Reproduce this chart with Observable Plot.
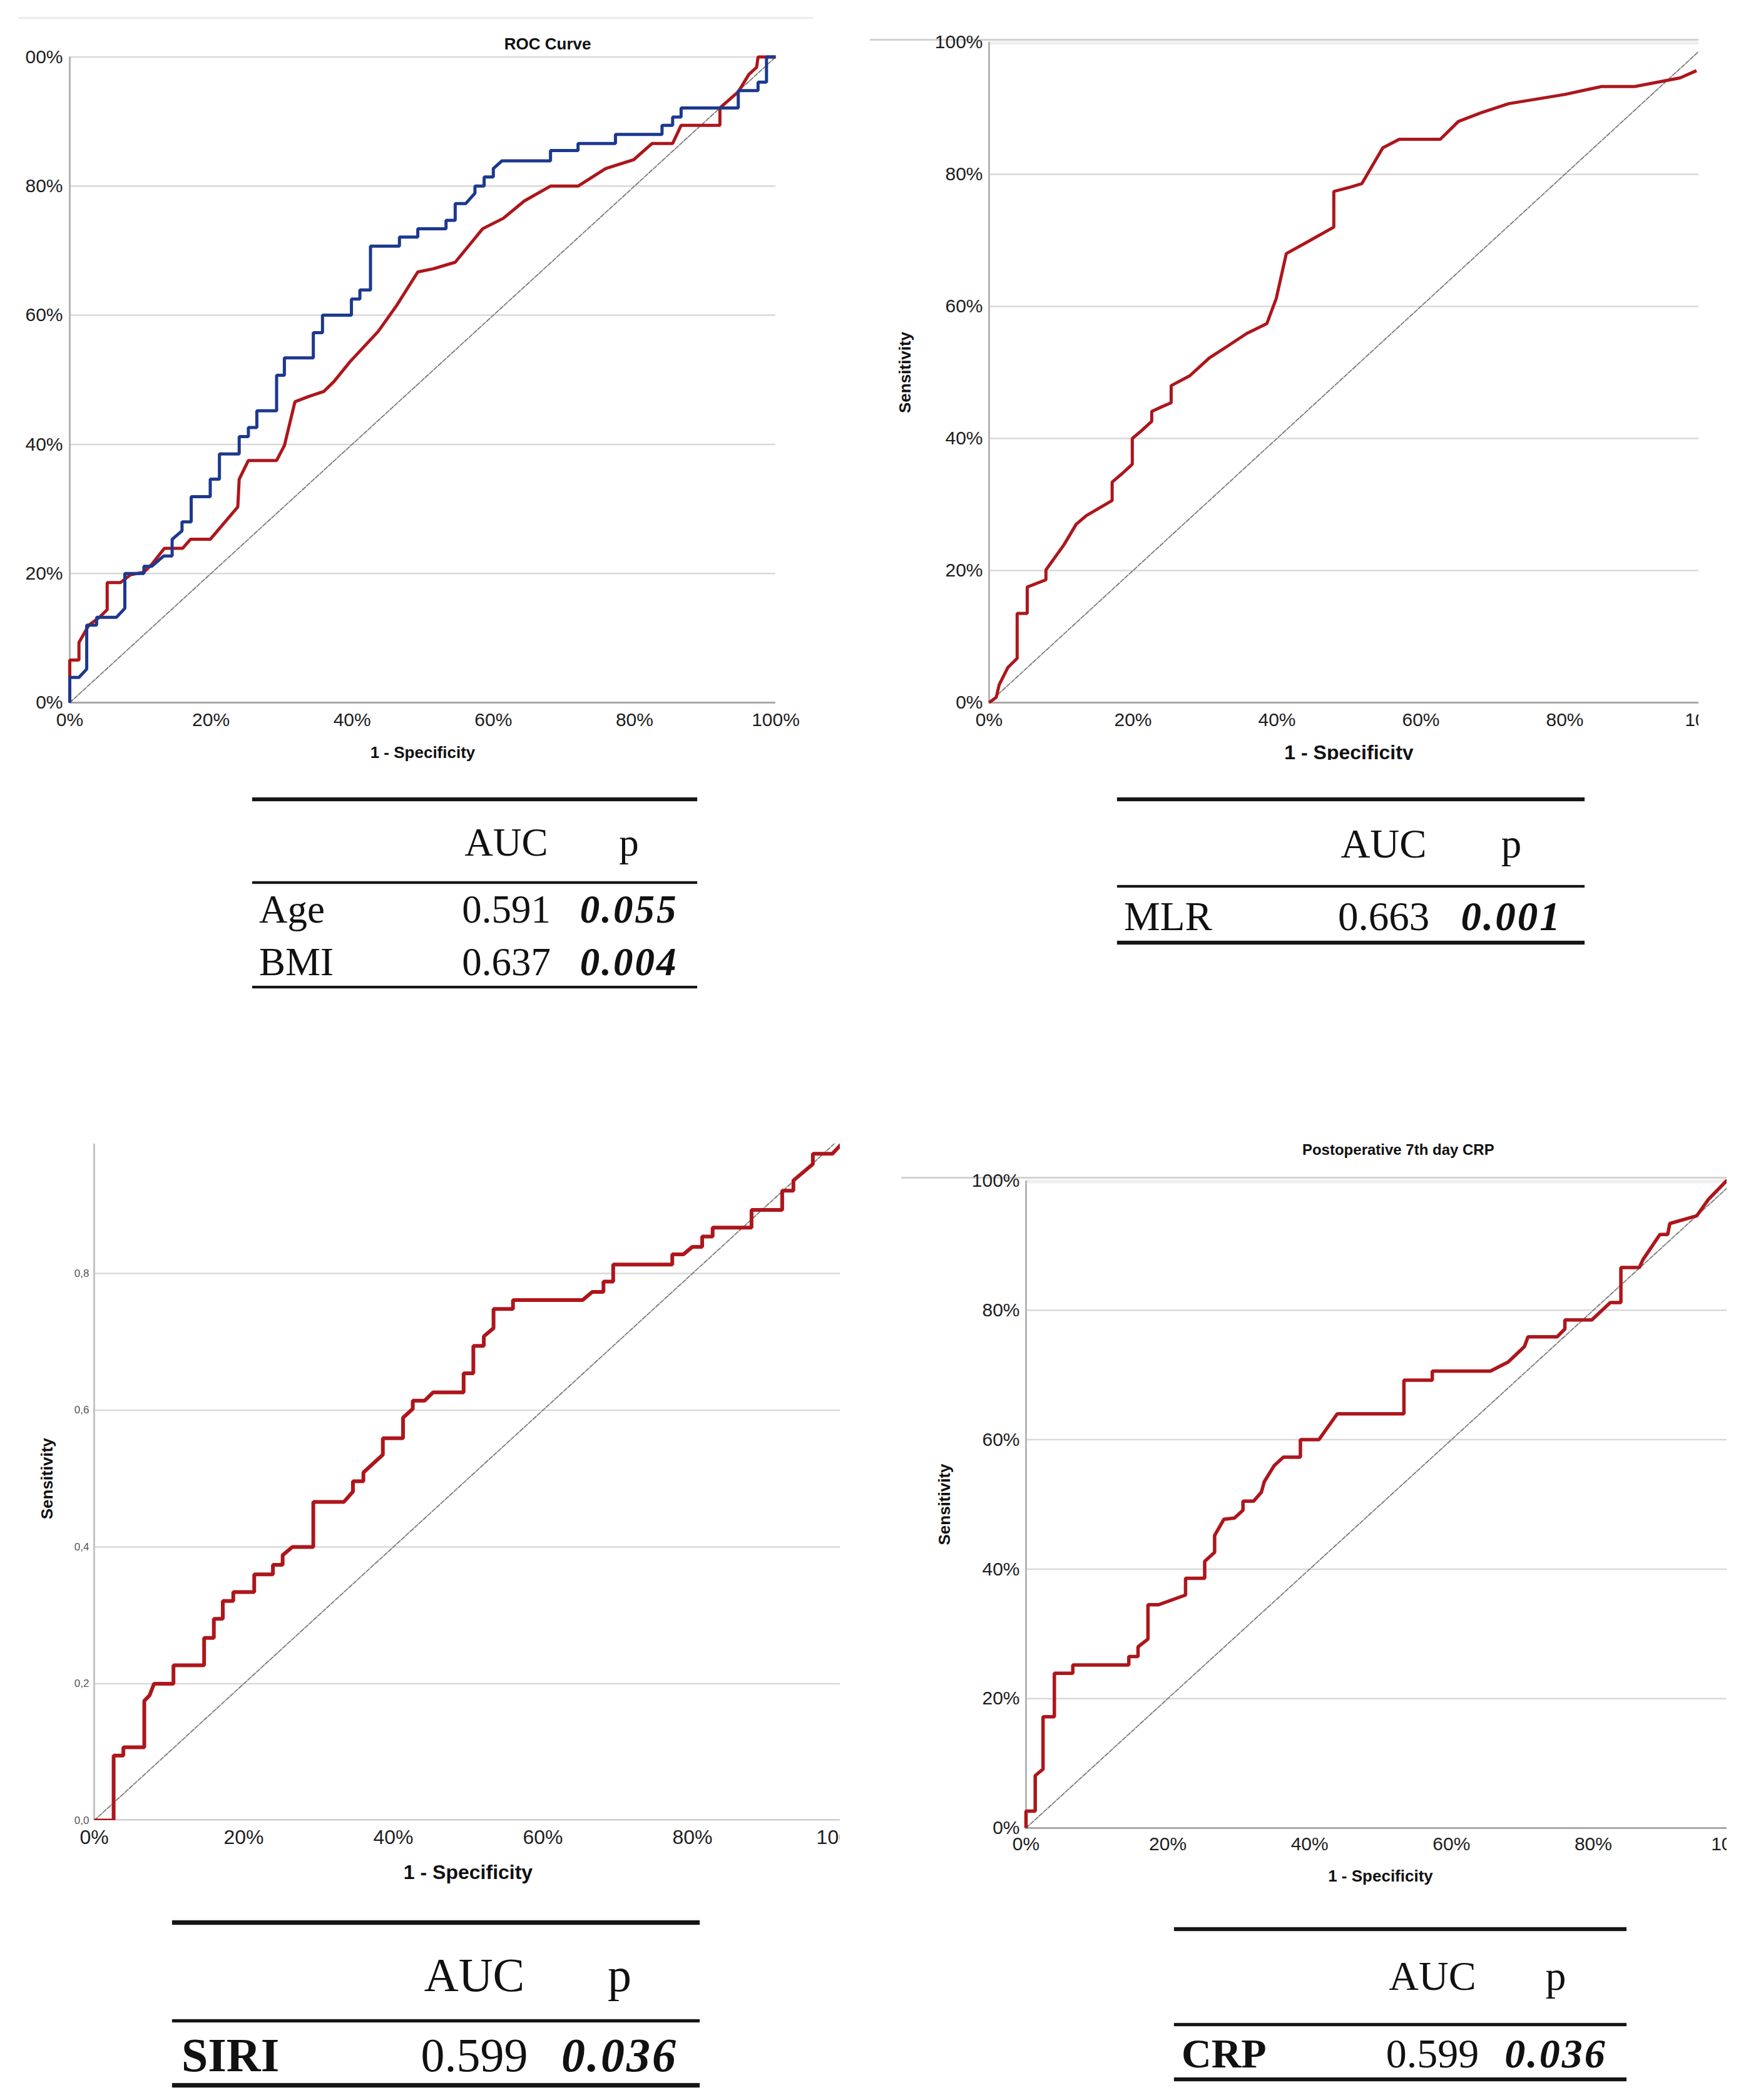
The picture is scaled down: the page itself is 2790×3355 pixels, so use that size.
<!DOCTYPE html>
<html>
<head>
<meta charset="utf-8">
<script src="https://cdn.jsdelivr.net/npm/d3@7"></script>
<script src="https://cdn.jsdelivr.net/npm/@observablehq/plot@0.6"></script>
<style>
html, body { margin: 0; padding: 0; background: #fff; }
#page { position: relative; width: 2790px; height: 3355px; overflow: hidden; background: #fff; }
#page svg { overflow: hidden; position: absolute; }
</style>
</head>
<body>
<div id="page"></div>
<script>
// ---------------- DATA ----------------
// Panel 1: Age (red) and BMI (blue), x = 1 - specificity (%), y = sensitivity (%)
const ageFpr = [0,0,1.3,1.3,2.7,4.2,5.3,5.3,7.2,8.6,10.5,11.6,13.4,16.0,17.1,19.9,23.8,24.0,25.3,29.3,30.4,31.9,33.8,36.0,37.4,39.7,43.7,46.3,49.3,51.5,54.6,58.5,61.4,64.4,68.1,72.0,75.9,79.9,82.5,85.4,86.6,92.1,92.1,94.7,96.2,97.3,97.5,100];
const ageTpr = [0,6.6,6.6,9.3,12.0,13.2,14.4,18.6,18.6,19.8,20.2,21.4,23.9,23.9,25.3,25.3,30.3,34.6,37.5,37.5,39.8,46.6,47.4,48.2,49.7,52.8,57.5,61.5,66.7,67.2,68.2,73.4,75.0,77.7,80.0,80.0,82.7,84.1,86.6,86.6,89.4,89.4,92.1,94.6,97.3,98.4,100,100];
const bmiFpr = [0,0,1.3,2.4,2.4,3.8,3.8,6.6,7.8,7.8,10.5,10.5,11.6,13.3,14.5,14.5,15.9,15.9,17.2,17.2,19.9,19.9,21.2,21.2,24.0,24.0,25.3,25.3,26.5,26.5,29.3,29.3,30.4,30.4,34.5,34.5,35.8,35.8,39.9,39.9,41.1,41.1,42.6,42.6,46.7,46.7,49.3,49.3,53.3,53.3,54.6,54.6,56.1,57.4,57.4,58.7,58.7,60.0,60.0,61.2,68.1,68.1,72.0,72.0,77.3,77.3,83.9,83.9,85.4,85.4,86.6,86.6,94.7,94.7,97.5,97.5,98.7,98.7,100];
const bmiTpr = [0,3.9,3.9,5.2,12.0,12.0,13.2,13.2,14.6,20.0,20.0,21.1,21.1,22.7,22.7,25.3,26.6,28.0,28.0,31.9,31.9,34.6,34.6,38.5,38.5,41.2,41.2,42.6,42.6,45.2,45.2,50.7,50.7,53.4,53.4,57.3,57.3,60.0,60.0,62.5,62.5,63.9,63.9,70.7,70.7,72.1,72.1,73.4,73.4,74.7,74.7,77.3,77.3,78.9,80.0,80.0,81.4,81.4,82.7,83.9,83.9,85.5,85.5,86.6,86.6,88.0,88.0,89.4,89.4,90.7,90.7,92.1,92.1,94.8,94.8,96.1,96.1,100,100];
// Panel 2: MLR
const mlrFpr = [0,1.0,1.4,2.6,3.9,3.9,5.3,5.3,7.9,7.9,10.4,12.1,13.5,17.1,17.1,18.4,19.9,19.9,21.2,22.6,22.6,24.0,25.3,25.3,27.9,30.6,33.3,35.8,38.6,39.9,41.3,43.8,47.9,47.9,50.3,51.8,54.7,57.0,62.7,65.2,68.3,72.2,80.0,85.1,89.7,96.0,98.3];
const mlrTpr = [0,0.8,2.7,5.3,6.7,13.5,13.5,17.5,18.6,20.1,23.9,27.0,28.3,30.6,33.4,34.6,36.1,40.0,41.2,42.6,44.1,44.8,45.4,48.0,49.5,52.2,54.1,55.9,57.4,61.2,68.0,69.5,72.0,77.4,78.1,78.6,84.0,85.3,85.3,88.0,89.3,90.7,92.1,93.3,93.3,94.6,95.7];
// Panel 3: SIRI (sensitivity as a fraction)
const siriFpr = [0,2.6,2.6,3.9,3.9,6.7,6.7,7.4,8.0,10.6,10.6,14.7,14.7,16.0,16.0,17.2,17.2,18.6,18.6,21.4,21.4,23.9,23.9,25.2,25.2,26.5,29.3,29.3,33.4,34.6,34.6,36.0,36.0,38.6,38.6,41.3,41.3,42.6,42.6,44.2,45.3,49.4,49.4,50.7,50.7,52.1,52.1,53.4,53.4,56.0,56.0,65.3,66.6,68.1,68.1,69.4,69.4,77.3,77.3,78.8,80.0,81.3,81.3,82.7,82.7,87.9,87.9,92.0,92.0,93.5,93.5,96.1,96.1,98.7,100];
const siriTpr = [0,0,0.095,0.095,0.107,0.107,0.175,0.183,0.200,0.200,0.227,0.227,0.267,0.267,0.295,0.295,0.321,0.321,0.334,0.334,0.360,0.360,0.374,0.374,0.388,0.400,0.400,0.466,0.466,0.481,0.496,0.496,0.509,0.535,0.559,0.559,0.589,0.602,0.614,0.614,0.626,0.626,0.654,0.654,0.694,0.694,0.708,0.720,0.748,0.748,0.761,0.761,0.773,0.773,0.788,0.788,0.813,0.813,0.828,0.828,0.839,0.839,0.854,0.854,0.867,0.867,0.893,0.893,0.921,0.921,0.936,0.960,0.975,0.975,0.990];
// Panel 4: Postoperative 7th day CRP
const crpFpr = [0,0,1.3,1.3,2.4,2.4,4.0,4.0,6.6,6.6,14.5,14.5,15.8,15.8,17.2,17.2,18.7,22.5,22.5,25.2,25.2,26.6,26.6,27.9,29.4,30.6,30.6,32.1,33.2,33.6,35.0,36.3,38.7,38.7,41.3,43.9,53.3,53.3,57.3,57.3,65.5,68.0,70.3,70.8,74.9,76.0,76.0,79.8,82.4,83.9,83.9,86.5,87.0,89.4,90.5,90.8,94.6,96.3,98.8,100];
const crpTpr = [0,2.6,2.6,8.1,9.1,17.2,17.2,23.9,23.9,25.2,25.2,26.5,26.5,28.0,29.2,34.5,34.5,36.0,38.6,38.6,41.2,42.6,45.2,47.7,47.9,49.1,50.5,50.5,51.9,53.5,56.0,57.3,57.3,60.0,60.0,64.0,64.0,69.2,69.2,70.6,70.6,72.0,74.4,75.9,75.9,77.1,78.5,78.5,81.2,81.2,86.6,86.6,87.8,91.7,91.7,93.4,94.6,97.2,100,100];

const chance = [0, 100];
const pctTicks = [0, 20, 40, 60, 80, 100];
const pctLabels = ["0%", "20%", "40%", "60%", "80%", "100%"];
const p1YLabels = ["0%", "20%", "40%", "60%", "80%", "00%"];
const siriYTicks = [0, 0.2, 0.4, 0.6, 0.8];
const siriYLabels = ["0,0", "0,2", "0,4", "0,6", "0,8"];
const gridPct = [20, 40, 60, 80, 100];
const gridPctNoTop = [20, 40, 60, 80];
const gridSiri = [0.2, 0.4, 0.6, 0.8];

const tableHeaders = ["AUC", "p"];
const t1Names = ["Age", "BMI"], t1Auc = ["0.591", "0.637"], t1P = ["0.055", "0.004"];
const t2Names = ["MLR"], t2Auc = ["0.663"], t2P = ["0.001"];
const t3Names = ["SIRI"], t3Auc = ["0.599"], t3P = ["0.036"];
const t4Names = ["CRP"], t4Auc = ["0.599"], t4P = ["0.036"];

const RED = "#ad161b", BLUE = "#1c398e";

// ---------------- DRAWING ----------------
const page = document.getElementById("page");

function rocPanel(o) {
  const marks = [];
  marks.push(Plot.ruleY(o.grid, {x1: 0, x2: 100, stroke: "#d9d9d9", strokeWidth: 2.5, clip: o.clip}));
  if (o.topLine) {
    marks.push(Plot.ruleY([o.yMax], {x1: 0, x2: 100, stroke: "#efefef", strokeWidth: 6, dy: 1, clip: o.clip}));
    marks.push(Plot.ruleY([o.yMax], {stroke: "#d2d2d2", strokeWidth: 3, dy: o.topLineDy}));
  }
  marks.push(o.axisFull
    ? Plot.ruleX([0], {stroke: "#c4c4c4", strokeWidth: 3})
    : Plot.ruleX([0], {y1: 0, y2: o.yMax, stroke: "#b5b5b5", strokeWidth: 3}));
  marks.push(Plot.ruleY([0], {x1: 0, x2: 100, stroke: o.bottomStroke || "#a8a8a8", strokeWidth: 3, clip: o.clip}));
  marks.push(Plot.line(chance, {x: d => d, y: d => d * o.yMax / 100, stroke: "#7a7a7a", strokeWidth: 1.8, strokeDasharray: "7,2.5", clip: o.clip}));
  o.series.forEach(s => marks.push(Plot.line(s.x.map((x, i) => ({x, y: s.y[i]})),
    {x: "x", y: "y", stroke: s.color, strokeWidth: o.lw, strokeLinejoin: "miter", strokeLinecap: "butt", clip: o.clip})));
  marks.push(Plot.text(pctTicks, {x: d => d, y: 0, text: (d, i) => pctLabels[i], dy: o.xTickDy, fontSize: o.tickFont, fill: "#1e1e1e"}));
  marks.push(Plot.text(o.yTicks, {x: 0, y: d => d, text: (d, i) => o.yLabels[i], dx: o.yTickDx, textAnchor: "end", fontSize: o.yTickFont, fill: o.yTickFill || "#1e1e1e"}));
  marks.push(Plot.text([o.xLabel], {x: 50, y: 0, dy: o.xLabelDy, fontSize: o.xLabelFont, fontWeight: "bold", fill: "#111"}));
  if (o.yLabel) marks.push(Plot.text([o.yLabel], {x: 0, y: o.yMax / 2, dx: o.yLabelDx, rotate: -90, fontSize: 26, fontWeight: "bold", fill: "#111"}));
  if (o.title) marks.push(Plot.text([o.title], {x: o.titleX, y: o.yMax, dy: o.titleDy, fontSize: o.titleFont, fontWeight: "bold", fill: "#111"}));
  const svg = Plot.plot({
    width: o.width, height: o.height,
    marginTop: o.mt, marginRight: o.mr, marginBottom: o.mb, marginLeft: o.ml,
    x: {domain: [0, 100], range: o.xr, axis: null},
    y: {domain: [0, o.yMax], range: o.yr, axis: null},
    style: {fontFamily: '"Liberation Sans", Arial, sans-serif', background: "transparent"},
    marks
  });
  svg.style.left = o.left + "px";
  svg.style.top = o.top + "px";
  page.appendChild(svg);
}

// Panel 1
const frame1 = document.createElement("div");
Object.assign(frame1.style, {position: "absolute", left: "29px", top: "27px", width: "1271px", height: "3px", background: "#ececec"});
page.appendChild(frame1);
rocPanel({
  left: 0, top: 0, width: 1300, height: 1232, mt: 0, mr: 0, mb: 0, ml: 0, clip: false,
  xr: [111, 1239], yr: [1122, 90.5], yMax: 100,
  grid: gridPct, series: [{x: ageFpr, y: ageTpr, color: RED}, {x: bmiFpr, y: bmiTpr, color: BLUE}],
  lw: 5, tickFont: 30, yTickFont: 30, xTickDy: 28, yTickDx: -11,
  yTicks: pctTicks, yLabels: p1YLabels,
  xLabel: "1 - Specificity", xLabelDy: 80, xLabelFont: 26,
  title: "ROC Curve", titleX: 67.7, titleDy: -20, titleFont: 26
});
// Panel 2
rocPanel({
  left: 1390, top: 0, width: 1324, height: 1214, mt: 0, mr: 0, mb: 0, ml: 0, clip: true,
  xr: [190, 1340], yr: [1122, 67], yMax: 100, topLine: true, topLineDy: -4,
  grid: gridPctNoTop, series: [{x: mlrFpr, y: mlrTpr, color: RED}],
  lw: 5, tickFont: 30, yTickFont: 30, xTickDy: 28, yTickDx: -10,
  yTicks: pctTicks, yLabels: pctLabels,
  xLabel: "1 - Specificity", xLabelDy: 80, xLabelFont: 32,
  yLabel: "Sensitivity", yLabelDx: -134
});
// Panel 3
rocPanel({
  left: 0, top: 1780, width: 1342, height: 1240, mt: 47, mr: 0, mb: 112, ml: 0, clip: true, axisFull: true,
  xr: [150, 1345], yr: [1128, 35.5], yMax: 1, bottomStroke: "#949494",
  grid: gridSiri, series: [{x: siriFpr, y: siriTpr, color: RED}],
  lw: 6, tickFont: 32, yTickFont: 17, yTickFill: "#555", xTickDy: 27, yTickDx: -8,
  yTicks: siriYTicks, yLabels: siriYLabels,
  xLabel: "1 - Specificity", xLabelDy: 83, xLabelFont: 32,
  yLabel: "Sensitivity", yLabelDx: -75
});
// Panel 4
rocPanel({
  left: 1440, top: 1780, width: 1319, height: 1235, mt: 0, mr: 0, mb: 0, ml: 0, clip: true,
  xr: [199, 1332], yr: [1140, 106], yMax: 100, topLine: true, topLineDy: -5,
  grid: gridPctNoTop, series: [{x: crpFpr, y: crpTpr, color: RED}],
  lw: 5.5, tickFont: 30, yTickFont: 30, xTickDy: 26, yTickDx: -10,
  yTicks: pctTicks, yLabels: pctLabels,
  xLabel: "1 - Specificity", xLabelDy: 77, xLabelFont: 26,
  yLabel: "Sensitivity", yLabelDx: -130,
  title: "Postoperative 7th day CRP", titleX: 52.5, titleDy: -49, titleFont: 24
});

// ---------------- TABLES ----------------
function addTable(c) {
  const add = (style, text) => {
    const e = document.createElement("div");
    Object.assign(e.style, {position: "absolute"}, style);
    if (text != null) e.textContent = text;
    page.appendChild(e);
    return e;
  };
  c.rules.forEach(r => add({left: c.x1 + "px", width: (c.x2 - c.x1) + "px", top: (r.y - r.h / 2) + "px",
    height: r.h + "px", background: "#151515", boxShadow: "0 0 3px rgba(0,0,0,0.3)"}));
  const txt = (s, x, y, mid, extra) => add(Object.assign({
    left: x + "px", top: y + "px", transform: `translate(${mid ? "-50%" : "0"}, -50%)`,
    fontFamily: '"Liberation Serif", "Times New Roman", serif', fontSize: c.fs + "px",
    lineHeight: "1", whiteSpace: "nowrap", color: "#111"}, extra || {}), s);
  txt(tableHeaders[0], c.aucX, c.headerY, true);
  txt(tableHeaders[1], c.pX, c.headerY, true);
  c.names.forEach((n, i) => {
    txt(n, c.nameX, c.rowYs[i], false, c.nameBold ? {fontWeight: "bold"} : {});
    txt(c.auc[i], c.aucX, c.rowYs[i], true);
    txt(c.p[i], c.pX, c.rowYs[i], true, {fontWeight: "bold", fontStyle: "italic", letterSpacing: "3px"});
  });
}

addTable({x1: 403, x2: 1114, rules: [{y: 1277, h: 6}, {y: 1410, h: 4}, {y: 1577, h: 4}],
  headerY: 1346, rowYs: [1453, 1537], nameX: 414, aucX: 809, pX: 1005, fs: 63,
  names: t1Names, auc: t1Auc, p: t1P});
addTable({x1: 1785, x2: 2532, rules: [{y: 1277, h: 6}, {y: 1416, h: 4}, {y: 1506, h: 6}],
  headerY: 1348, rowYs: [1464], nameX: 1796, aucX: 2211, pX: 2415, fs: 65,
  names: t2Names, auc: t2Auc, p: t2P});
addTable({x1: 275, x2: 1118, rules: [{y: 3071, h: 7}, {y: 3228, h: 5}, {y: 3331, h: 7}],
  headerY: 3155, rowYs: [3283], nameX: 290, aucX: 758, pX: 990, fs: 76, nameBold: true,
  names: t3Names, auc: t3Auc, p: t3P});
addTable({x1: 1876, x2: 2599, rules: [{y: 3082, h: 6}, {y: 3234, h: 5}, {y: 3322, h: 6}],
  headerY: 3157, rowYs: [3281], nameX: 1888, aucX: 2289, pX: 2486, fs: 66, nameBold: true,
  names: t4Names, auc: t4Auc, p: t4P});
</script>
</body>
</html>
